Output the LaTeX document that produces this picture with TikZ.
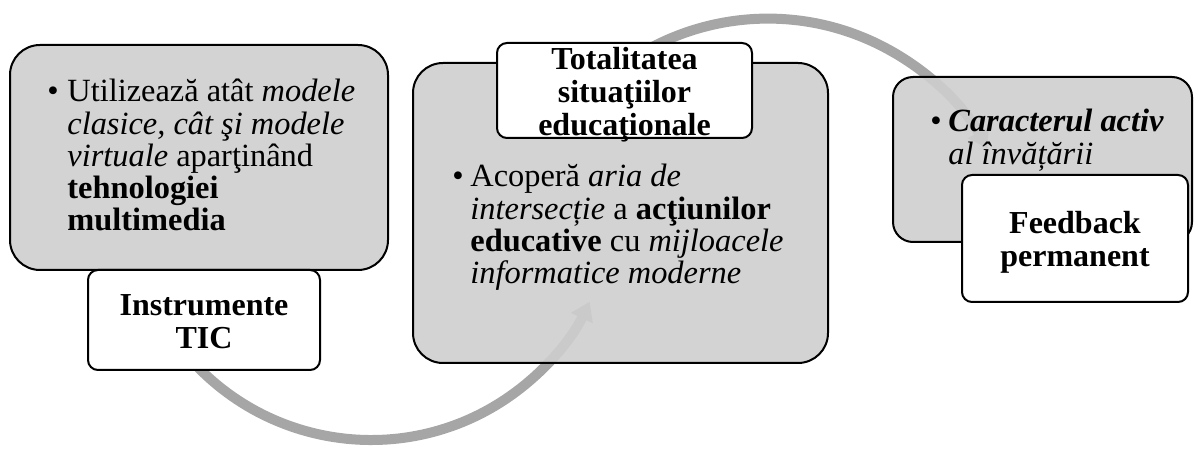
\documentclass[tikz,border=0pt]{standalone}
\usepackage{fontspec}
\setmainfont{Liberation Serif}
\usepackage{array}
\usetikzlibrary{arrows.meta}
\definecolor{arrowgray}{RGB}{166,166,166}
\definecolor{boxgray}{RGB}{206,206,206}
\newcommand{\bodyfont}{\fontsize{16.2}{16}\selectfont}
\newcommand{\labfont}{\fontsize{16}{16.5}\selectfont\bfseries}

\begin{document}
\begin{tikzpicture}[x=0.5pt,y=0.5pt,line join=round]
  \tikzstyle{graybox}=[rectangle,draw=black,line width=1pt,fill=boxgray,fill opacity=0.9,inner sep=0pt]
  \tikzstyle{labelbox}=[rectangle,draw=black,line width=1pt,fill=white,rounded corners=5pt,inner sep=0pt]
  \tikzstyle{labeltext}=[align=center,font=\labfont,inner sep=0pt]
  \tikzstyle{bodytext}=[anchor=base west,font=\bodyfont,inner sep=0pt]
  \tikzstyle{flowarrow}=[draw=arrowgray,line width=5pt,-{Triangle[length=9pt,width=11.5pt]}]
  \useasboundingbox (0,0) rectangle (1194,450);

  % arrows run behind the boxes
  \coordinate (s1) at ([shift={(215:242)}]371,252);
  \coordinate (s2) at ([shift={(125:250)}]768,181.4);
  \draw[flowarrow] (s1) arc[start angle=215,end angle=334.6,radius=242];
  \draw[flowarrow] (s2) arc[start angle=125,end angle=28.8,radius=250];

  % gray boxes
  \node[graybox,rounded corners=15pt,minimum width=189pt,minimum height=112.5pt] (box1) at (199,292.5) {};
  \node[graybox,rounded corners=15pt,minimum width=207.5pt,minimum height=150pt] (box2) at (620.5,237) {};
  \node[graybox,rounded corners=10pt,minimum width=149.5pt,minimum height=82.5pt] (box3) at (1042.5,290.5) {};

  % white label boxes
  \node[labelbox,minimum width=116pt,minimum height=50pt] (lab1) at (204,130) {};
  \node[labelbox,minimum width=127.5pt,minimum height=47.5pt] (lab2) at (624.5,359.5) {};
  \node[labelbox,minimum width=113pt,minimum height=63.5pt] (lab3) at (1075,211.5) {};
  \node[labeltext,yshift=-1pt] (lab1txt) at (lab1) {Instrumente\\TIC};
  \node[labeltext,yshift=-2pt] (lab2txt) at (lab2) {Totalitatea\\situaţiilor\\educaţionale};
  \node[labeltext,yshift=-2pt] (lab3txt) at (lab3) {Feedback\\permanent};

  % bullet texts
  \node[bodytext] (txt1) at (47,348) {\begin{tabular}[t]{@{}p{10pt}@{}l@{}}
    \textbullet & Utilizează atât \textit{modele}\\
    & \textit{clasice, cât şi modele}\\
    & \textit{virtuale} aparţinând\\
    & \textbf{tehnologiei}\\
    & \textbf{multimedia}\end{tabular}};
  \node[bodytext] (txt2) at (452,263) {\begin{tabular}[t]{@{}p{9pt}@{}l@{}}
    \textbullet & Acoperă \textit{aria de}\\
    & \textit{intersecție} a \textbf{acţiunilor}\\
    & \textbf{educative} cu \textit{mijloacele}\\
    & \textit{informatice moderne}\end{tabular}};
  \node[bodytext] (txt3) at (930,318) {\begin{tabular}[t]{@{}p{9pt}@{}l@{}}
    \textbullet & \textbf{\textit{Caracterul activ}}\\
    & \textit{al învățării}\end{tabular}};
\end{tikzpicture}
\end{document}
